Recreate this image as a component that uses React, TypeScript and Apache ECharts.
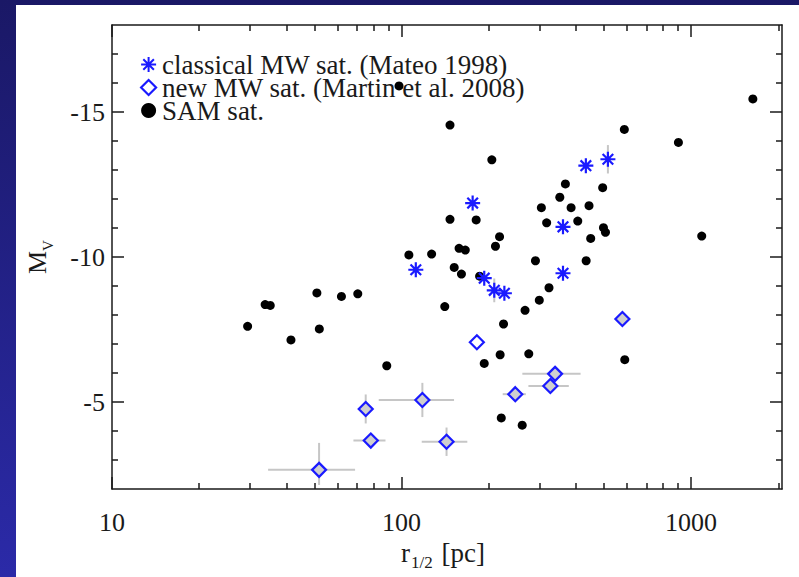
import React, { useEffect, useRef } from 'react';
import * as echarts from 'echarts';

// ---- axis ticks / labels ----
const X_TICK_LABELS = [10, 100, 1000];
const X_MINOR_TICKS = [20, 30, 40, 50, 60, 70, 80, 90, 200, 300, 400, 500, 600, 700, 800, 900, 2000];
const Y_TICK_LABELS = [-15, -10, -5];
const Y_MINOR_TICKS = [-17, -16, -14, -13, -12, -11, -9, -8, -7, -6, -4, -3];

// ---- legend names ----
const NAME_CLASSICAL = 'classical MW sat. (Mateo 1998)';
const NAME_NEW = 'new MW sat. (Martin et al. 2008)';
const NAME_SAM = 'SAM sat.';

// ---- SAM satellites ----
const SAM_R = [98, 147, 205, 588, 904, 1634, 147, 181, 218, 211, 158, 166, 106, 127, 152, 161, 186, 141,
  51, 62, 70.6, 33.8, 35.2, 29.4, 52, 41.5, 88.9, 368, 495, 352, 304, 385, 444, 317, 406, 498, 506, 450,
  1088, 290, 434, 323, 299, 267, 225, 219, 275, 193, 590, 221, 261];
const SAM_MV = [-15.9, -14.55, -13.35, -14.4, -13.95, -15.45, -11.3, -11.28, -10.7, -10.37, -10.3, -10.24,
  -10.07, -10.1, -9.64, -9.41, -9.34, -8.29, -8.76, -8.64, -8.73, -8.36, -8.33, -7.61, -7.52, -7.14, -6.25,
  -12.52, -12.39, -12.06, -11.7, -11.7, -11.77, -11.18, -11.24, -11.01, -10.85, -10.64, -10.72, -9.87,
  -9.87, -8.94, -8.51, -8.16, -7.69, -6.63, -6.66, -6.33, -6.46, -4.45, -4.2];

// ---- classical MW satellites ----
const CL_R = [176, 112, 193, 209, 226.5, 361, 361, 433, 516];
const CL_MV = [-11.86, -9.56, -9.27, -8.85, -8.75, -11.04, -9.44, -13.15, -13.37];
const CL_MV_LO = [null, null, null, -9.26, null, null, null, null, -13.86];
const CL_MV_HI = [null, null, null, -8.44, null, null, null, null, -12.88];

// ---- new MW satellites ----
const NEW_R = [182, 579, 75.2, 118, 78.3, 143, 51.9, 339, 326.5, 247];
const NEW_MV = [-7.06, -7.86, -4.76, -5.07, -3.67, -3.63, -2.66, -5.97, -5.55, -5.27];
const NEW_R_LO = [null, 560, null, 83.4, 68.2, 117.4, 34.6, 261.3, 274.2, 223.5];
const NEW_R_HI = [null, 600, null, 151.8, 88.0, 168.7, 69.1, 415.2, 378.1, 268.6];
const NEW_MV_LO = [null, -8.05, -5.26, -5.66, null, -4.12, -3.59, null, null, null];
const NEW_MV_HI = [null, -7.67, -4.26, -4.48, null, -3.14, -2.14, null, null, null];

const FONT = "'Liberation Serif', 'DejaVu Serif', serif";
const INK = '#1a1a1a';
const BLUE = '#1a1aff';
const ASTERISK = 'path://M0 -10 L0 10 M-10 0 L10 0 M-7.07 -7.07 L7.07 7.07 M-7.07 7.07 L7.07 -7.07';

export default function App() {
  const ref = useRef<HTMLDivElement>(null);
  useEffect(() => {
    if (!ref.current) return;
    const chart = echarts.init(ref.current, null, { renderer: 'svg' });

    const samData = SAM_R.map((r, i) => [r, SAM_MV[i]]);
    const clData = CL_R.map((r, i) => [r, CL_MV[i]]);
    const newData = NEW_R.map((r, i) => {
      const hasErr = NEW_R_LO[i] !== null || NEW_MV_LO[i] !== null;
      return { value: [r, NEW_MV[i]], itemStyle: { color: hasErr ? '#cfcfcf' : '#ffffff' } };
    });
    const errData: any[] = [];
    NEW_R.forEach((r, i) => {
      errData.push([r, NEW_MV[i], NEW_R_LO[i] ?? '-', NEW_R_HI[i] ?? '-', NEW_MV_LO[i] ?? '-', NEW_MV_HI[i] ?? '-']);
    });
    CL_R.forEach((r, i) => {
      if (CL_MV_LO[i] !== null) errData.push([r, CL_MV[i], '-', '-', CL_MV_LO[i], CL_MV_HI[i]]);
    });

    const axisLine = { show: true, lineStyle: { color: INK, width: 1.5 } };
    const mkX = (pos: string, major: boolean, labels: boolean) => ({
      type: 'log', logBase: 10, min: 10, max: 2060, position: pos, gridIndex: 0,
      axisLine: major ? axisLine : { show: false },
      axisTick: { show: true, inside: true, length: major ? 12 : 6, customValues: major ? X_TICK_LABELS : X_MINOR_TICKS, lineStyle: { color: INK, width: 1.5 } },
      axisLabel: labels ? {
        show: true, customValues: X_TICK_LABELS, fontFamily: FONT, fontSize: 26, color: INK, margin: 20,
        formatter: (v: number) => String(Math.round(v)),
      } : { show: false },
      splitLine: { show: false },
      ...(labels ? {
        name: '{a|r}{s|1/2}{a| [pc]}', nameLocation: 'middle', nameGap: 33,
        nameTextStyle: { padding: [0, 8, 0, 0], rich: {
          a: { fontFamily: FONT, fontSize: 27, color: INK, lineHeight: 36, verticalAlign: 'middle' },
          s: { fontFamily: FONT, fontSize: 17, color: INK, lineHeight: 19, verticalAlign: 'bottom', padding: [0, 2, 0, 1] },
        } },
      } : {}),
    });
    const mkY = (pos: string, major: boolean, labels: boolean) => ({
      type: 'value', min: -18, max: -2, inverse: true, position: pos, gridIndex: 0,
      axisLine: major ? axisLine : { show: false },
      axisTick: { show: true, inside: true, length: major ? 12 : 6, customValues: major ? Y_TICK_LABELS : Y_MINOR_TICKS, lineStyle: { color: INK, width: 1.5 } },
      axisLabel: labels ? { show: true, customValues: Y_TICK_LABELS, fontFamily: FONT, fontSize: 26, color: INK, margin: 7 } : { show: false },
      splitLine: { show: false },
      ...(labels ? {
        name: '{a|M}{s|V}', nameLocation: 'middle', nameGap: 57, nameRotate: 90,
        nameTextStyle: { rich: {
          a: { fontFamily: FONT, fontSize: 26, color: INK, lineHeight: 36, verticalAlign: 'middle' },
          s: { fontFamily: FONT, fontSize: 15, color: INK, lineHeight: 18, verticalAlign: 'bottom' },
        } },
      } : {}),
    });

    chart.setOption({
      animation: false,
      backgroundColor: {
        type: 'linear', x: 0, y: 0, x2: 0, y2: 1,
        colorStops: [{ offset: 0, color: '#1a1866' }, { offset: 1, color: '#2b2aa8' }],
      },
      graphic: [{ type: 'rect', z: -100, silent: true, shape: { x: 16, y: 5, width: 799 - 16, height: 577 - 5 }, style: { fill: '#ffffff' } }],
      grid: { left: 112, right: 17, top: 25, bottom: 88, outerBoundsMode: 'none' },
      legend: {
        show: true, orient: 'vertical', left: 135, top: 46, itemGap: -4, itemWidth: 15, itemHeight: 15,
        textStyle: { fontFamily: FONT, fontSize: 27, color: INK, lineHeight: 22, padding: [0, 0, 0, 1] },
        data: [
          { name: NAME_CLASSICAL, icon: ASTERISK },
          { name: NAME_NEW, icon: 'diamond', itemStyle: { color: '#ffffff', borderColor: BLUE, borderWidth: 2.2, opacity: 1 } },
          { name: NAME_SAM, icon: 'circle' },
        ],
      },
      xAxis: [mkX('bottom', true, true), mkX('bottom', false, false), mkX('top', true, false), mkX('top', false, false)],
      yAxis: [mkY('left', true, true), mkY('left', false, false), mkY('right', true, false), mkY('right', false, false)],
      series: [
        {
          name: NAME_SAM, type: 'scatter', xAxisIndex: 0, yAxisIndex: 0, symbol: 'circle', symbolSize: 9,
          itemStyle: { color: '#000000', opacity: 1 }, data: samData, z: 3,
        },
        {
          name: 'errors', type: 'custom', xAxisIndex: 0, yAxisIndex: 0, silent: true, z: 4,
          encode: { x: 0, y: 1 },
          renderItem: (_p: any, api: any) => {
            const x = api.value(0), y = api.value(1);
            const xl = api.value(2), xh = api.value(3), yl = api.value(4), yh = api.value(5);
            const style = { stroke: '#c6c6c6', lineWidth: 2, fill: 'none' };
            const children: any[] = [];
            if (Number.isFinite(xl) && Number.isFinite(xh)) {
              const a = api.coord([xl, y]), b = api.coord([xh, y]);
              children.push({ type: 'line', shape: { x1: a[0], y1: a[1], x2: b[0], y2: b[1] }, style });
            }
            if (Number.isFinite(yl) && Number.isFinite(yh)) {
              const a = api.coord([x, yl]), b = api.coord([x, yh]);
              children.push({ type: 'line', shape: { x1: a[0], y1: a[1], x2: b[0], y2: b[1] }, style });
            }
            return { type: 'group', children };
          },
          data: errData,
        },
        {
          name: NAME_CLASSICAL, type: 'scatter', xAxisIndex: 0, yAxisIndex: 0, symbol: ASTERISK, symbolSize: 15,
          itemStyle: { color: BLUE, borderColor: BLUE, borderWidth: 2.2, opacity: 1 }, data: clData, z: 5,
        },
        {
          name: NAME_NEW, type: 'scatter', xAxisIndex: 0, yAxisIndex: 0, symbol: 'diamond', symbolSize: 14,
          itemStyle: { color: '#ffffff', borderColor: BLUE, borderWidth: 2.2, opacity: 1 }, data: newData, z: 5,
        },
      ],
    });
    return () => chart.dispose();
  }, []);
  return <div ref={ref} style={{ position: 'absolute', left: 0, top: 0, width: 799, height: 577 }} />;
}
